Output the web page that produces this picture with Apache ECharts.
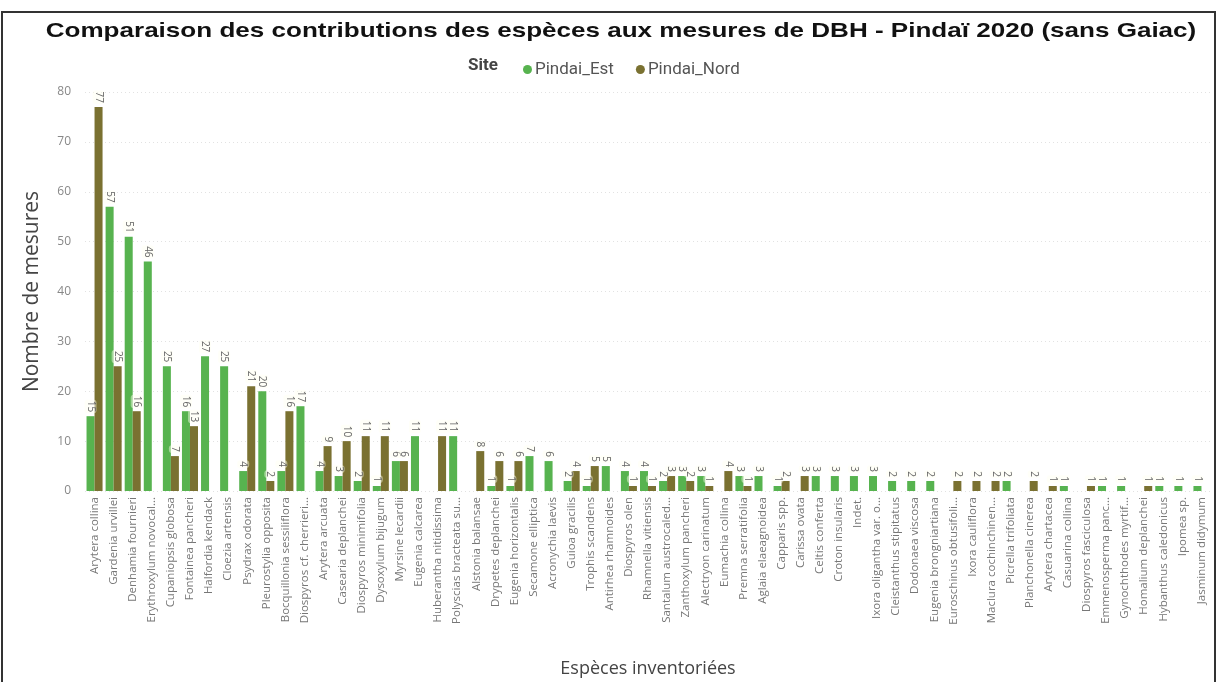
<!DOCTYPE html>
<html>
<head>
<meta charset="utf-8">
<script src="https://cdn.jsdelivr.net/npm/echarts@6/dist/echarts.min.js"></script>
<style>
  html, body { margin: 0; padding: 0; background: #fff; }
  #chart { width: 1218px; height: 682px; }
</style>
</head>
<body>
<div id="chart"></div>
<script>
// Species, sorted by total number of DBH measurements (ties alphabetical)
const species = [
  'Arytera collina', 'Gardenia urvillei', 'Denhamia fournieri', 'Erythroxylum novocal...',
  'Cupaniopsis globosa', 'Fontainea pancheri', 'Halfordia kendack', 'Cloezia artensis',
  'Psydrax odorata', 'Pleurostylia opposita', 'Bocquillonia sessiliflora', 'Diospyros cf. cherrieri...',
  'Arytera arcuata', 'Casearia deplanchei', 'Diospyros minimifolia', 'Dysoxylum bijugum',
  'Myrsine lecardii', 'Eugenia calcarea', 'Huberantha nitidissima', 'Polyscias bracteata su...',
  'Alstonia balansae', 'Drypetes deplanchei', 'Eugenia horizontalis', 'Secamone elliptica',
  'Acronychia laevis', 'Guioa gracilis', 'Trophis scandens', 'Antirhea rhamnoides',
  'Diospyros olen', 'Rhamnella vitiensis', 'Santalum austrocaled...', 'Zanthoxylum pancheri',
  'Alectryon carinatum', 'Eumachia collina', 'Premna serratifolia', 'Aglaia elaeagnoidea',
  'Capparis spp.', 'Carissa ovata', 'Celtis conferta', 'Croton insularis',
  'Indet.', 'Ixora oligantha var. o...', 'Cleistanthus stipitatus', 'Dodonaea viscosa',
  'Eugenia brongniartiana', 'Euroschinus obtusifoli...', 'Ixora cauliflora', 'Maclura cochinchinen...',
  'Picrella trifoliata', 'Planchonella cinerea', 'Arytera chartacea', 'Casuarina collina',
  'Diospyros fasciculosa', 'Emmenosperma panc...', 'Gynochthodes myrtif...', 'Homalium deplanchei',
  'Hybanthus caledonicus', 'Ipomea sp.', 'Jasminum didymum'
];

// Number of measurements per site (null = species absent from the site)
const pindaiEst = [
  15, 57, 51, 46, 25, 16, 27, 25, 4, 20, 4, 17,
  4, 3, 2, 1, 6, 11, null, 11, null, 1, 1, 7,
  6, 2, 1, 5, 4, 4, 2, 3, 3, null, 3, 3,
  1, null, 3, 3, 3, 3, 2, 2, 2, null, null, null,
  2, null, null, 1, null, 1, 1, null, 1, 1, 1
];
const pindaiNord = [
  77, 25, 16, null, 7, 13, null, null, 21, 2, 16, null,
  9, 10, 11, 11, 6, null, 11, null, 8, 6, 6, null,
  null, 4, 5, null, 1, 1, 3, 2, 1, 4, 1, null,
  2, 3, null, null, null, null, null, null, null, 2, 2, 2,
  null, 2, 1, null, 1, null, null, 1, null, null, null
];

const yTicks = { min: 0, max: 80, interval: 10 };
const seriesNames = ['Pindai_Est', 'Pindai_Nord'];
const colors = ['#57B34F', '#7A7131'];
const titleText = 'Comparaison des contributions des espèces aux mesures de DBH - Pindaï 2020 (sans Gaiac)';

const chart = echarts.init(document.getElementById('chart'), null, { renderer: 'canvas' });

const barLabel = {
  show: true,
  position: 'top',
  rotate: -90,
  align: 'right',
  verticalAlign: 'middle',
  distance: 3,
  fontSize: 10,
  color: '#666',
  fontFamily: 'Open Sans',
  backgroundColor: 'rgba(255,255,240,0.45)',
  padding: [1, 1],
  borderRadius: 3
};

chart.setOption({
  animation: false,
  backgroundColor: '#fff',
  color: colors,
  legend: {
    data: seriesNames,
    left: 518,
    top: 56,
    icon: 'circle',
    itemWidth: 9,
    itemHeight: 9,
    itemGap: 22,
    textStyle: { fontFamily: 'Roboto', fontSize: 17, color: '#555', padding: [0, 0, 0, -2] }
  },
  graphic: [
    {
      // wide bold heading
      type: 'text',
      x: 621,
      y: 31,
      scaleX: 1.24,
      style: {
        text: titleText,
        font: 'bold 21px "Liberation Sans"',
        fill: '#111',
        align: 'center',
        verticalAlign: 'middle'
      }
    },
    {
      type: 'text',
      left: 468,
      top: 57,
      style: { text: 'Site', font: 'bold 17px Roboto', fill: '#444' }
    },
    {
      type: 'rect',
      silent: true,
      shape: { x: 2, y: 12, width: 1213, height: 690 },
      style: { fill: 'none', stroke: '#333', lineWidth: 2 }
    }
  ],
  grid: { left: 85, right: 7, top: 92, bottom: 191, containLabel: false, outerBoundsMode: 'none' },
  xAxis: {
    type: 'category',
    data: species,
    name: 'Espèces inventoriées',
    nameLocation: 'middle',
    nameGap: 169,
    nameTextStyle: { fontFamily: 'Open Sans', fontSize: 18, color: '#444' },
    axisLine: { show: false },
    axisTick: { show: false },
    axisLabel: {
      rotate: 90,
      interval: 0,
      margin: 6,
      fontFamily: 'Open Sans',
      fontSize: 11.5,
      color: '#777'
    }
  },
  yAxis: {
    type: 'value',
    min: yTicks.min,
    max: yTicks.max,
    interval: yTicks.interval,
    name: 'Nombre de mesures',
    nameLocation: 'middle',
    nameGap: 42,
    nameTextStyle: { fontFamily: 'Open Sans', fontSize: 21, color: '#444' },
    axisLabel: { fontFamily: 'Open Sans', fontSize: 12, color: '#888', margin: 14 },
    splitLine: { lineStyle: { color: '#e2e2e2', type: [1, 3] } }
  },
  series: [
    {
      name: seriesNames[0],
      type: 'bar',
      data: pindaiEst,
      barGap: '0%',
      barCategoryGap: '16%',
      label: barLabel
    },
    {
      name: seriesNames[1],
      type: 'bar',
      data: pindaiNord,
      barGap: '0%',
      barCategoryGap: '16%',
      label: barLabel
    }
  ]
});
</script>
</body>
</html>
